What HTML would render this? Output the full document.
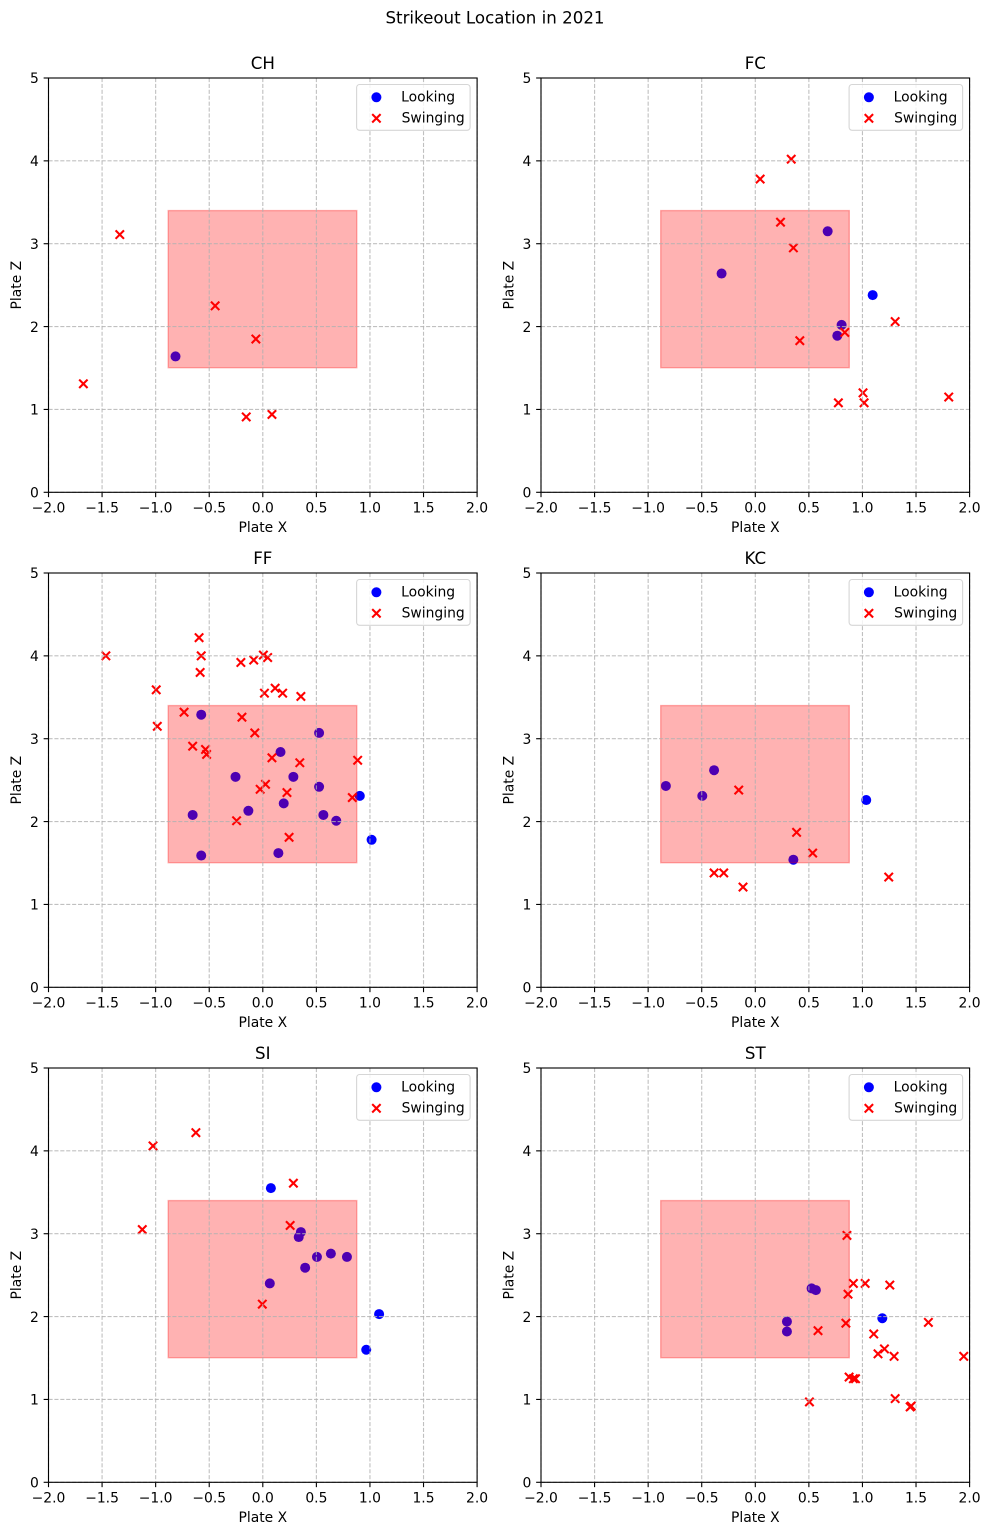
<!DOCTYPE html>
<html lang="en">
<head>
<meta charset="utf-8">
<title>Strikeout Location in 2021</title>
<style>
html,body{margin:0;padding:0;background:#fff;}
svg{display:block;}
text{font-family:"DejaVu Sans","Liberation Sans",sans-serif;fill:#000;}
</style>
</head>
<body>
<svg id="figure" xmlns="http://www.w3.org/2000/svg" width="989" height="1535" viewBox="0 0 989 1535">
<rect x="0" y="0" width="989" height="1535" fill="#ffffff"></rect>
<text x="495" y="23.5" text-anchor="middle" font-size="16.67px">Strikeout Location in 2021</text>
</svg>
<script>
const pitchTypes = ['CH', 'FC', 'FF', 'KC', 'SI', 'ST'];
const xTickValues = [-2, -1.5, -1, -0.5, 0, 0.5, 1, 1.5, 2];
const xTickLabels = ['\u22122.0', '\u22121.5', '\u22121.0', '\u22120.5', '0.0', '0.5', '1.0', '1.5', '2.0'];
const zTickValues = [0, 1, 2, 3, 4, 5];
const zTickLabels = ['0', '1', '2', '3', '4', '5'];
const zoneX = [-0.88, 0.88];
const zoneZ = [1.5, 3.4];
const xDomain = [-2, 2];
const zDomain = [0, 5];

const chLookingX = [-0.81];
const chLookingZ = [1.64];
const chSwingingX = [-1.67, -1.33, -0.44, -0.06, -0.15, 0.09];
const chSwingingZ = [1.31, 3.11, 2.25, 1.85, 0.91, 0.94];

const fcLookingX = [-0.31, 0.68, 1.10, 0.81, 0.77];
const fcLookingZ = [2.64, 3.15, 2.38, 2.02, 1.89];
const fcSwingingX = [0.05, 0.34, 0.24, 0.36, 0.42, 0.84, 1.31, 1.01, 1.02, 0.78, 1.81];
const fcSwingingZ = [3.78, 4.02, 3.26, 2.95, 1.83, 1.93, 2.06, 1.20, 1.08, 1.08, 1.15];

const ffLookingX = [-0.57, 0.53, 0.17, -0.25, 0.29, 0.53, 0.91, 0.20, -0.13, -0.65, 0.57, 0.69, 1.02, 0.15, -0.57];
const ffLookingZ = [3.29, 3.07, 2.84, 2.54, 2.54, 2.42, 2.31, 2.22, 2.13, 2.08, 2.08, 2.01, 1.78, 1.62, 1.59];
const ffSwingingX = [-1.46, -0.59, -0.57, -0.58, -0.99, -0.73, -0.98, -0.20, -0.08, 0.01, 0.05, 0.02, 0.12, 0.19, 0.36, -0.19, -0.07, -0.65, -0.53, -0.52, 0.09, 0.35, 0.89, 0.03, -0.02, 0.23, 0.84, -0.24, 0.25];
const ffSwingingZ = [4.00, 4.22, 4.00, 3.80, 3.59, 3.32, 3.15, 3.92, 3.95, 4.01, 3.98, 3.55, 3.61, 3.55, 3.51, 3.26, 3.07, 2.91, 2.87, 2.81, 2.77, 2.71, 2.74, 2.45, 2.39, 2.35, 2.29, 2.01, 1.81];

const kcLookingX = [-0.83, -0.38, -0.49, 1.04, 0.36];
const kcLookingZ = [2.43, 2.62, 2.31, 2.26, 1.54];
const kcSwingingX = [-0.15, 0.39, 0.54, -0.38, -0.29, -0.11, 1.25];
const kcSwingingZ = [2.38, 1.87, 1.62, 1.38, 1.38, 1.21, 1.33];

const siLookingX = [0.08, 0.36, 0.34, 0.64, 0.51, 0.79, 0.40, 0.07, 1.09, 0.97];
const siLookingZ = [3.55, 3.02, 2.96, 2.76, 2.72, 2.72, 2.59, 2.40, 2.03, 1.60];
const siSwingingX = [-1.02, -0.62, 0.29, 0.26, -1.12, 0.00];
const siSwingingZ = [4.06, 4.22, 3.61, 3.10, 3.05, 2.15];

const stLookingX = [0.53, 0.57, 0.30, 0.30, 1.19];
const stLookingZ = [2.34, 2.32, 1.94, 1.82, 1.98];
const stSwingingX = [0.86, 0.92, 1.03, 1.26, 1.62, 0.87, 0.85, 0.59, 1.11, 1.21, 1.15, 1.30, 1.95, 0.88, 0.92, 0.94, 0.51, 1.31, 1.46, 1.45];
const stSwingingZ = [2.98, 2.40, 2.40, 2.38, 1.93, 2.27, 1.92, 1.83, 1.79, 1.61, 1.55, 1.52, 1.52, 1.27, 1.25, 1.25, 0.97, 1.01, 0.92, 0.91];

const lookingXByPanel = [chLookingX, fcLookingX, ffLookingX, kcLookingX, siLookingX, stLookingX];
const lookingZByPanel = [chLookingZ, fcLookingZ, ffLookingZ, kcLookingZ, siLookingZ, stLookingZ];
const swingingXByPanel = [chSwingingX, fcSwingingX, ffSwingingX, kcSwingingX, siSwingingX, stSwingingX];
const swingingZByPanel = [chSwingingZ, fcSwingingZ, ffSwingingZ, kcSwingingZ, siSwingingZ, stSwingingZ];

const SVG_NS = 'http://www.w3.org/2000/svg';
const figure = document.getElementById('figure');
const PANEL_LEFTS = [48.5, 541];
const PANEL_TOPS = [78, 573, 1068];
const PANEL_W = 428.6;
const PANEL_H = 414.3;
const MARK_NUDGE = -0.5;

function make(tag, parent, attrs, content) {
  const el = document.createElementNS(SVG_NS, tag);
  for (const key in attrs) el.setAttribute(key, attrs[key]);
  if (content !== undefined) el.textContent = content;
  parent.appendChild(el);
  return el;
}

function drawCross(parent, cx, cy, label) {
  const h = 4.2;
  const path = make('path', parent, {
    d: 'M' + (cx - h) + ' ' + (cy - h) + 'L' + (cx + h) + ' ' + (cy + h) + 'M' + (cx - h) + ' ' + (cy + h) + 'L' + (cx + h) + ' ' + (cy - h),
    stroke: '#ff0000', 'stroke-width': 2.08, fill: 'none'
  });
  
  
  return path;
}

function drawDot(parent, cx, cy, label) {
  const dot = make('circle', parent, { cx: cx, cy: cy, r: 5, fill: '#0000ff' });
  
  
  return dot;
}

function drawPanel(index) {
  const key = pitchTypes[index].toLowerCase();
  const left = PANEL_LEFTS[index % 2];
  const top = PANEL_TOPS[Math.floor(index / 2)];
  const xScale = function (v) { return left + (v - xDomain[0]) / (xDomain[1] - xDomain[0]) * PANEL_W; };
  const zScale = function (v) { return top + PANEL_H - (v - zDomain[0]) / (zDomain[1] - zDomain[0]) * PANEL_H; };

  const g = make('g', figure, {});
  
  

  const bg = make('rect', g, { x: left, y: top, width: PANEL_W, height: PANEL_H, fill: '#ffffff' });
  
  

  const lx = lookingXByPanel[index];
  const lz = lookingZByPanel[index];
  lx.forEach(function (v, i) {
    drawDot(g, xScale(v) + MARK_NUDGE, zScale(lz[i]), key + '-looking-point');
  });
  const sx = swingingXByPanel[index];
  const sz = swingingZByPanel[index];
  sx.forEach(function (v, i) {
    drawCross(g, xScale(v) + MARK_NUDGE, zScale(sz[i]), key + '-swinging-point');
  });

  const zone = make('rect', g, {
    x: xScale(zoneX[0]) - 0.3, y: zScale(zoneZ[1]),
    width: xScale(zoneX[1]) - xScale(zoneX[0]), height: zScale(zoneZ[0]) - zScale(zoneZ[1]) - 0.3,
    fill: 'rgba(255,0,0,0.3)', stroke: 'rgba(255,0,0,0.3)', 'stroke-width': 1.39
  });
  
  

  xTickValues.forEach(function (v, i) {
    const px = xScale(v);
    const grid = make('line', g, { x1: px, x2: px, y1: top, y2: top + PANEL_H, stroke: '#b0b0b0', 'stroke-opacity': 0.8, 'stroke-width': 1.11, 'stroke-dasharray': '4.1 1.8' });
    
    
    const tick = make('line', g, { x1: px, x2: px, y1: top + PANEL_H, y2: top + PANEL_H + 4.86, stroke: '#000', 'stroke-width': 1.11 });
    
    
    const label = make('text', g, { x: px, y: top + PANEL_H + 20, 'text-anchor': 'middle', 'font-size': '13.9px' }, xTickLabels[i]);
    
    
  });

  zTickValues.forEach(function (v, i) {
    const py = zScale(v);
    const grid = make('line', g, { x1: left, x2: left + PANEL_W, y1: py, y2: py, stroke: '#b0b0b0', 'stroke-opacity': 0.8, 'stroke-width': 1.11, 'stroke-dasharray': '4.1 1.8' });
    
    
    const tick = make('line', g, { x1: left - 4.86, x2: left, y1: py, y2: py, stroke: '#000', 'stroke-width': 1.11 });
    
    
    const label = make('text', g, { x: left - 9.7, y: py + 5.2, 'text-anchor': 'end', 'font-size': '13.9px' }, zTickLabels[i]);
    
    
  });

  const frame = make('rect', g, { x: left, y: top, width: PANEL_W, height: PANEL_H, fill: 'none', stroke: '#000', 'stroke-width': 1.11 });
  
  

  const title = make('text', g, { x: left + PANEL_W / 2, y: top - 9, 'text-anchor': 'middle', 'font-size': '16.67px' }, pitchTypes[index]);
  
  

  const xLabel = make('text', g, { x: left + PANEL_W / 2, y: top + PANEL_H + 39.5, 'text-anchor': 'middle', 'font-size': '13.9px' }, 'Plate X');
  
  

  const yLabelX = left - 27.5;
  const yLabelY = top + PANEL_H / 2;
  const yLabel = make('text', g, { x: yLabelX, y: yLabelY, 'text-anchor': 'middle', 'font-size': '13.9px', transform: 'rotate(-90 ' + yLabelX + ' ' + yLabelY + ')' }, 'Plate Z');
  
  

  const right = left + PANEL_W;
  const legend = make('g', g, {});
  
  
  const box = make('rect', legend, { x: right - 120.5, y: top + 6.5, width: 113.5, height: 45.8, rx: 3, ry: 3, fill: 'rgba(255,255,255,0.8)', stroke: '#d6d6d6', 'stroke-width': 1.11 });
  
  
  drawDot(legend, right - 100.7, top + 19.3, key + '-legend-looking-marker');
  drawCross(legend, right - 100.7, top + 40.3, key + '-legend-swinging-marker');
  const t1 = make('text', legend, { x: right - 76, y: top + 23.6, 'font-size': '13.9px' }, 'Looking');
  
  
  const t2 = make('text', legend, { x: right - 75.5, y: top + 44.6, 'font-size': '13.9px' }, 'Swinging');
  
  
}

pitchTypes.forEach(function (type, index) { drawPanel(index); });
</script>
</body>
</html>
